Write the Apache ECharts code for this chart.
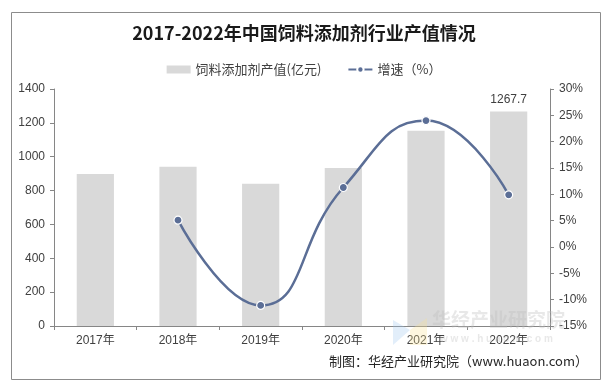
<!DOCTYPE html>
<html><head><meta charset="utf-8">
<script src="https://cdn.jsdelivr.net/npm/echarts@6/dist/echarts.min.js"></script>
<style>html,body{margin:0;padding:0;background:#fff}#c{width:608px;height:390px}</style>
</head><body><div id="c"></div>
<script>
const categories = ['2017年','2018年','2019年','2020年','2021年','2022年'];
const outputValues = [898, 940, 840, 934, 1154, 1267.7];
const growthRates = [null, 5.1, -11.1, 11.3, 24.0, 9.9];
const leftTicks = [0, 1400, 200];
const rightTicks = [-15, 30, 5];

const chart = echarts.init(document.getElementById('c'));
const font = 'Arial, "Liberation Sans", "Noto Sans CJK SC", sans-serif';
chart.setOption({
  animation: false,
  backgroundColor: '#fff',
  title: {
    text: '2017-2022年中国饲料添加剂行业产值情况',
    left: 'center', top: 19,
    textStyle: {fontFamily: '"Noto Sans CJK SC", serif', fontSize: 18, fontWeight: 'bold', color: '#1a1a1a'}
  },
  legend: {
    top: 58, left: 'center', itemGap: 26,
    textStyle: {fontFamily: '"Noto Sans CJK SC", sans-serif', fontSize: 13, color: '#404040'},
    data: [
      {name: '饲料添加剂产值(亿元)', icon: 'rect', itemStyle: {color: '#d9d9d9'}},
      {name: '增速（%）'}
    ],
    itemWidth: 24, itemHeight: 8
  },
  grid: {left: 54, right: 58, top: 89, bottom: 64},
  xAxis: {
    type: 'category', data: categories,
    axisLine: {lineStyle: {color: '#868686'}},
    axisTick: {show: true, alignWithLabel: false, lineStyle: {color: '#868686'}, length: 4},
    axisLabel: {fontFamily: font, fontSize: 12, color: '#404040', margin: 9}
  },
  yAxis: [
    {
      type: 'value', min: leftTicks[0], max: leftTicks[1], interval: leftTicks[2],
      axisLine: {show: true, lineStyle: {color: '#868686'}},
      axisTick: {show: true, length: 4, lineStyle: {color: '#868686'}},
      splitLine: {show: false},
      axisLabel: {fontFamily: font, fontSize: 12, color: '#404040', margin: 9, formatter: v => String(v)}
    },
    {
      type: 'value', min: rightTicks[0], max: rightTicks[1], interval: rightTicks[2],
      axisLine: {show: true, lineStyle: {color: '#868686'}},
      axisTick: {show: true, length: 4, lineStyle: {color: '#868686'}},
      splitLine: {show: false},
      axisLabel: {fontFamily: font, fontSize: 12, color: '#404040', margin: 9, formatter: '{value}%'}
    }
  ],
  series: [
    {
      name: '饲料添加剂产值(亿元)', type: 'bar', data: outputValues.map((v, i) => ({
        value: v,
        label: i === outputValues.length - 1 ? {show: true, position: 'top', distance: 6, fontFamily: font, fontSize: 12, color: '#404040', formatter: '{c}'} : {show: false}
      })),
      barWidth: '45%', itemStyle: {color: '#d9d9d9'}
    },
    {
      name: '增速（%）', type: 'line', yAxisIndex: 1, data: growthRates, smooth: 0.5,
      connectNulls: false,
      symbol: 'circle', symbolSize: 8,
      lineStyle: {color: '#5b6e96', width: 2.5},
      itemStyle: {color: '#5b6e96', borderColor: '#fff', borderWidth: 1.2}
    }
  ],
  graphic: [
    {type: 'rect', left: 9, top: 10, shape: {width: 589, height: 367}, style: {fill: 'none', stroke: '#8c8c8c', lineWidth: 1}, silent: true},
    {type: 'text', left: 432, top: 310, z: 100, style: {text: '华经产业研究院', fontFamily: '"Noto Sans CJK SC"', fontSize: 19, fontWeight: 'bold', fill: 'rgba(190,190,190,0.35)'}},
    {type: 'text', left: 440, top: 334, z: 100, style: {text: 'w w w . h u a o n . c o m', fontFamily: font, fontSize: 10, fontWeight: 'bold', fill: 'rgba(190,190,190,0.35)'}},
    {type: 'polygon', z: 100, shape: {points: [[393,320],[410,330],[393,345]]}, style: {fill: 'rgba(160,200,240,0.3)'}},
    {type: 'polygon', z: 100, shape: {points: [[410,330],[427,318],[427,345],[410,345]]}, style: {fill: 'rgba(250,225,150,0.3)'}},
    {type: 'text', right: 20, top: 355, style: {text: '制图：华经产业研究院（www.huaon.com）', fontFamily: '"Noto Sans CJK SC", sans-serif', fontSize: 13, fill: '#262626'}}
  ]
});
</script></body></html>
